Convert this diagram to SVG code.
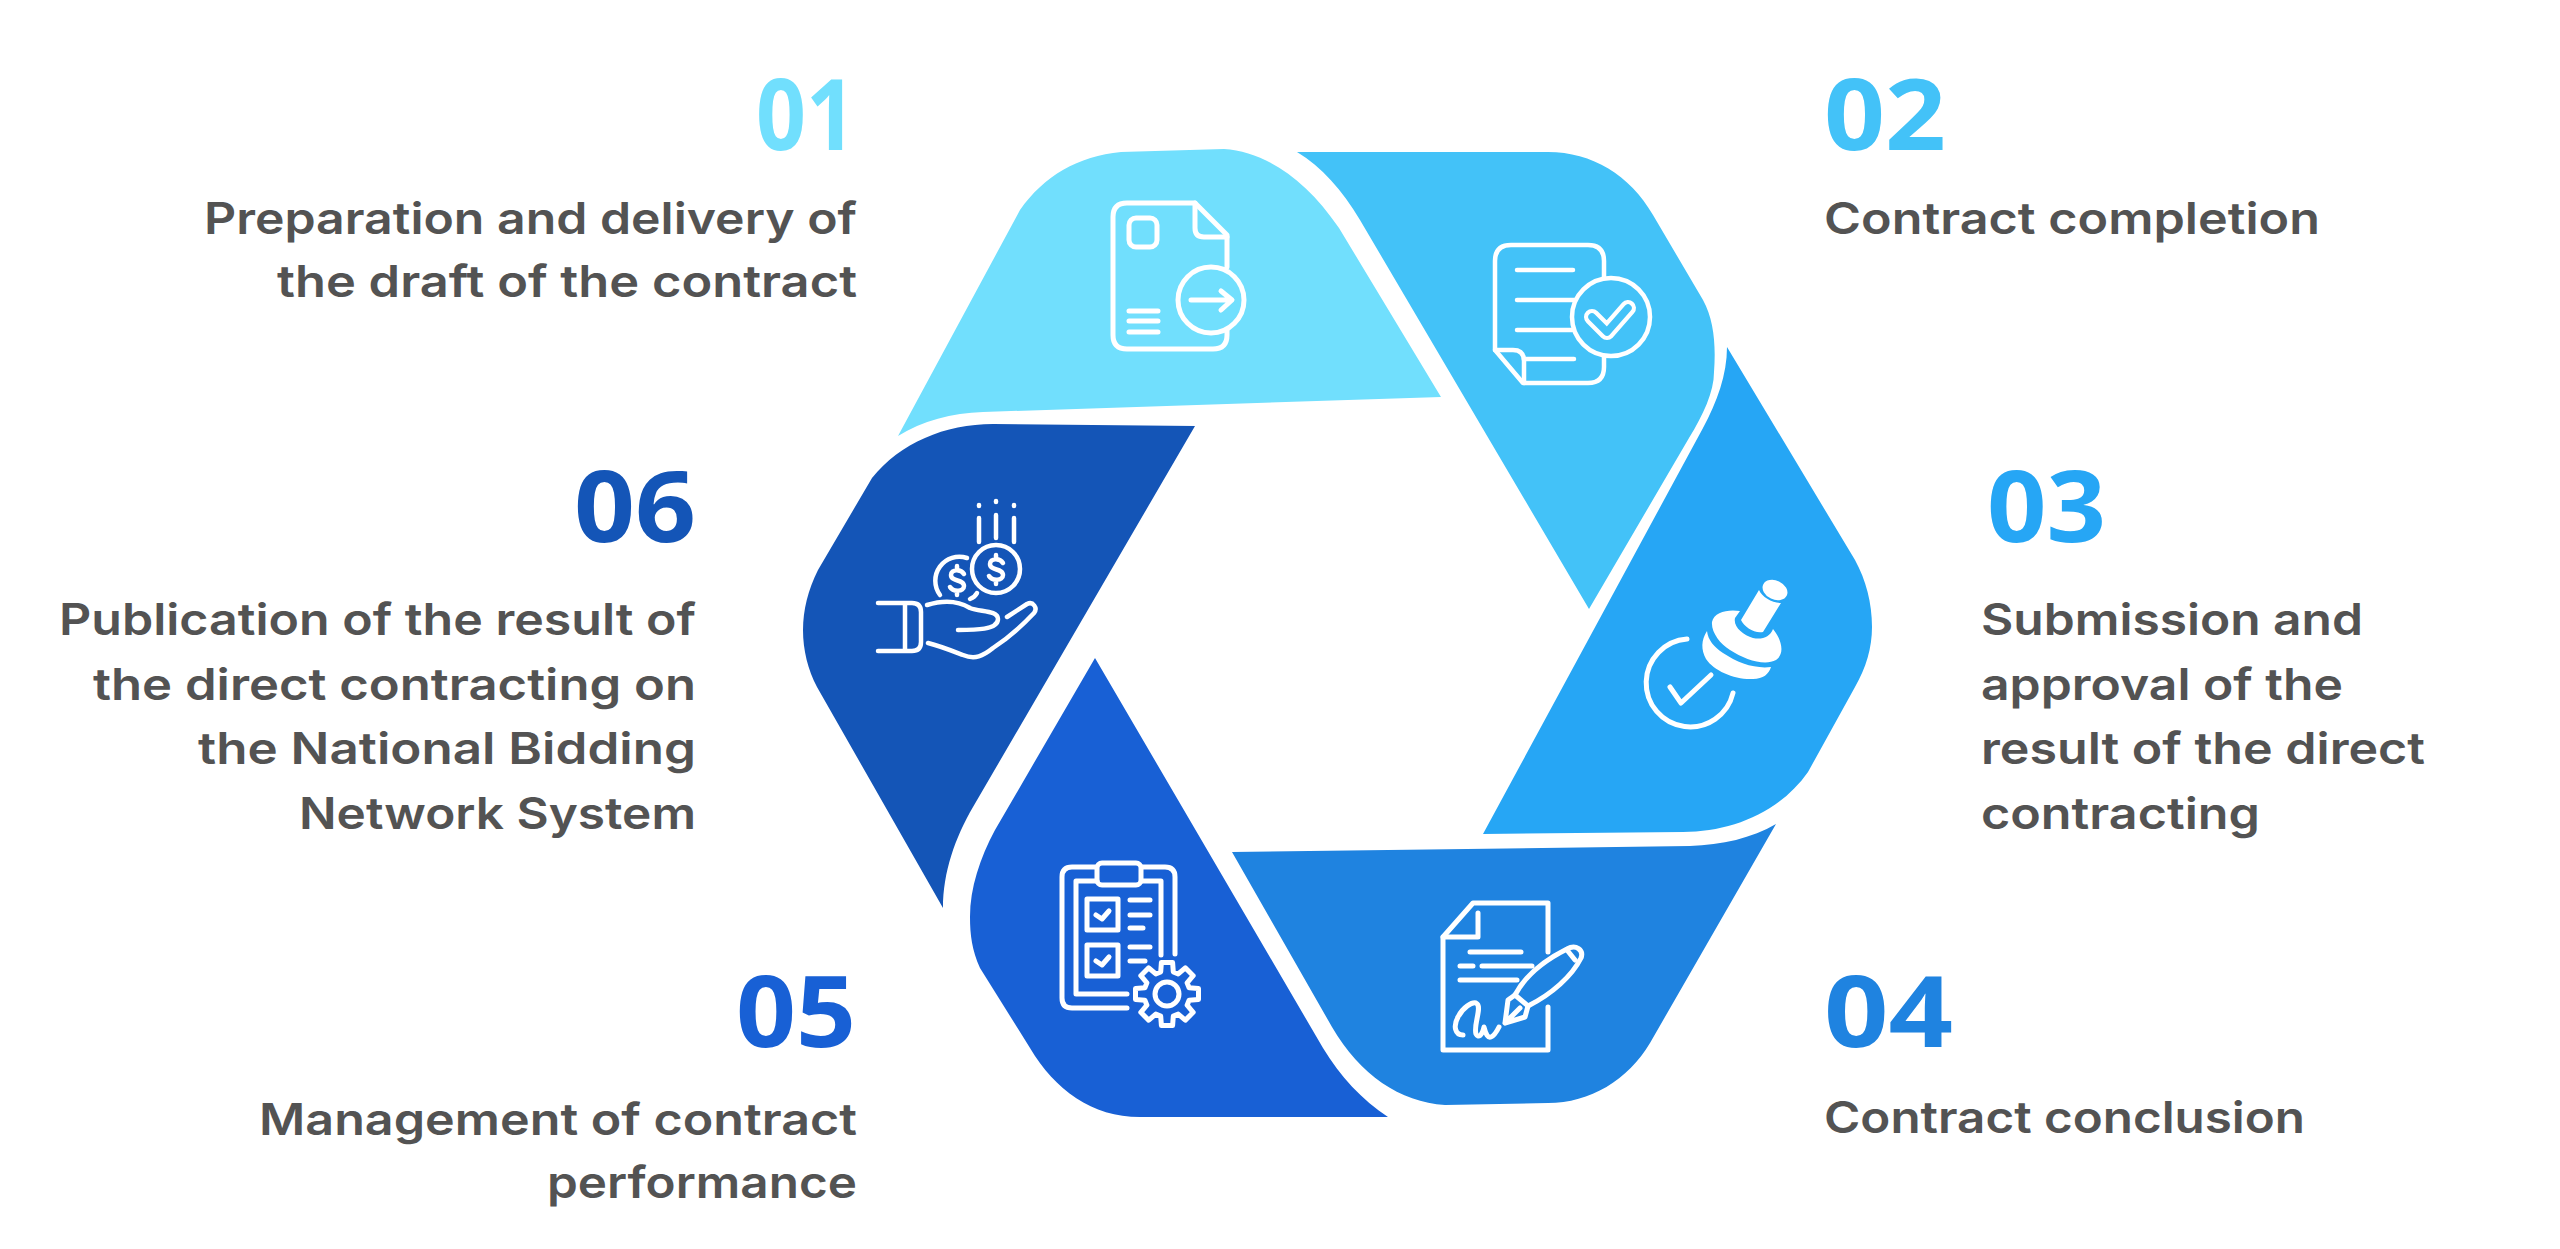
<svg xmlns="http://www.w3.org/2000/svg" width="2560" height="1249" viewBox="0 0 2560 1249">
<style>
text{font-family:"Inter","Noto Sans","Liberation Sans",sans-serif}
.t{font-size:44px;font-weight:600;fill:#535353}
.n{font-size:99px;font-weight:700;font-family:"Open Sans","Inter",sans-serif}
.e{text-anchor:end}
.i{fill:none;stroke:#fff;stroke-width:5;stroke-linecap:round;stroke-linejoin:round}
.f{fill:#fff}
</style>
<rect width="2560" height="1249" fill="#fff"/>
<g id="node-01">
<path fill="#71DFFD" d="M898,436 C922,421 952,413 983,412 L1441,397 L1339,228 C1305,178 1265,152 1224,149 L1121,152 C1078,156 1044,176 1020,210 Z"/>
<g class="i">
<path d="M1227,267 V235 L1195,203 H1127 Q1113,203 1113,217 V335 Q1113,349 1127,349 H1213 Q1227,349 1227,335 V330"/>
<path d="M1195,203 V228 Q1195,237 1204,237 H1227"/>
<rect x="1129" y="218" width="28" height="29" rx="7"/>
<path d="M1129,311 H1158 M1129,321 H1158 M1129,332 H1158"/>
<circle cx="1211" cy="300" r="33"/>
<path d="M1191,300 H1231 M1221,291 L1232,300 L1221,310"/>
</g>
<text class="n e" x="856" y="150" fill="#71DFFD" textLength="100" lengthAdjust="spacingAndGlyphs">01</text>
<text class="t e" x="857" y="234" textLength="653" lengthAdjust="spacingAndGlyphs">Preparation and delivery of</text>
<text class="t e" x="857" y="297" textLength="580" lengthAdjust="spacingAndGlyphs">the draft of the contract</text>
</g>
<g id="node-02">
<path fill="#43C2F8" d="M1297,152 L1548,152 C1592,152 1630,175 1653,215 L1703,300 C1714,320 1716,345 1714,372 C1714,392 1703,415 1689,438 L1589,609 L1360,220 C1342,190 1322,167 1297,152 Z"/>
<g class="i" style="stroke-width:4.5">
<path d="M1604,278 V261 Q1604,245 1588,245 H1511 Q1495,245 1495,261 V350 L1523,383 H1588 Q1604,383 1604,367 V356"/>
<path d="M1495,350 H1513 Q1524,350 1524,361 V383"/>
<path d="M1517,270 H1573 M1517,300 H1575 M1517,330 H1572 M1524,359 H1574"/>
<circle cx="1611" cy="317" r="39"/>
<path style="stroke-width:16" d="M1592,317 L1607,332 L1628,308"/>
<path style="stroke:#43C2F8;stroke-width:7.5" d="M1592,317 L1607,332 L1628,308"/>
</g>
<text class="n" x="1824" y="150" fill="#43C2F8" textLength="122" lengthAdjust="spacingAndGlyphs">02</text>
<text class="t" x="1824" y="234" textLength="496" lengthAdjust="spacingAndGlyphs">Contract completion</text>
</g>
<g id="node-03">
<path fill="#26A6F5" d="M1727,347 L1855,560 C1866,580 1872,603 1872,627 C1872,648 1866,668 1855,687 L1808,772 C1780,812 1732,832 1683,832 L1483,834 L1703,428 C1717,402 1727,375 1727,347 Z"/>
<path class="f" d="M1740,611 C1728,609 1714,612 1712,622 C1711,632 1720,644 1730,650 C1745,660 1765,666 1776,660 C1785,654 1782,640 1773,629 C1770,637 1762,640 1753,638 C1743,635 1733,627 1735,618 Z"/>
<path class="f" d="M1759,590 C1762,597 1772,603 1781,603 L1763,632 C1755,634 1744,627 1741,620 Z"/>
<ellipse class="f" cx="1775" cy="590" rx="13" ry="9.5" transform="rotate(25 1775 590)"/>
<path class="f" d="M1707,631 C1701,640 1701,650 1706,659 C1714,671 1735,680 1753,679 C1763,679 1769,674 1771,667 C1755,669 1738,663 1723,653 C1714,647 1708,640 1707,631 Z"/>
<g class="i">
<path d="M1687,639 A44,44 0 1 0 1733,693"/>
<path d="M1670,687 L1681,703 L1711,675"/>
</g>
<text class="n" x="1987" y="542" fill="#26A6F5" textLength="119" lengthAdjust="spacingAndGlyphs">03</text>
<text class="t" x="1981" y="635" textLength="382" lengthAdjust="spacingAndGlyphs">Submission and</text>
<text class="t" x="1981" y="700" textLength="362" lengthAdjust="spacingAndGlyphs">approval of the</text>
<text class="t" x="1981" y="764" textLength="444" lengthAdjust="spacingAndGlyphs">result of the direct</text>
<text class="t" x="1981" y="829" textLength="279" lengthAdjust="spacingAndGlyphs">contracting</text>
</g>
<g id="node-04">
<path fill="#1F83E0" d="M1232,852 L1690,846 C1722,845 1752,838 1776,824 L1650,1043 C1628,1080 1590,1103 1548,1103 L1445,1105 C1400,1102 1360,1075 1332,1027 Z"/>
<g class="i">
<path d="M1548,952 V903 H1473 L1443,937 V1050 H1548 V1007"/>
<path d="M1443,937 H1478 V913"/>
<path d="M1470,952 H1521 M1460,966 H1473 M1482,966 H1532 M1460,980 H1517"/>
<path d="M1515,995 C1525,976 1545,960 1567,949 C1576,944 1584,950 1581,958 C1572,976 1552,994 1528,1006"/>
<path d="M1567,950 L1575,960 M1515,995 L1528,1006"/>
<path d="M1515,995 L1508,1000 L1505,1023 L1525,1017 L1528,1006 M1505,1023 L1520,1008"/>
<path d="M1463,1035 C1455,1035 1453,1026 1458,1017 C1463,1007 1472,1002 1476,1003 C1483,1006 1473,1025 1476,1034 C1478,1038 1482,1036 1484,1027 C1486,1035 1488,1038 1491,1037 C1494,1036 1497,1031 1499,1027"/>
</g>
<text class="n" x="1824" y="1047" fill="#1F83E0" textLength="129" lengthAdjust="spacingAndGlyphs">04</text>
<text class="t" x="1824" y="1133" textLength="481" lengthAdjust="spacingAndGlyphs">Contract conclusion</text>
</g>
<g id="node-05">
<path fill="#1860D5" d="M1095,658 L1323,1048 C1340,1076 1362,1100 1388,1117 L1140,1117 C1092,1117 1055,1090 1030,1048 L980,968 C972,950 970,935 970,917 C970,888 980,858 995,830 Z"/>
<g class="i">
<path d="M1127,1008 H1072 Q1062,1008 1062,998 V877 Q1062,867 1072,867 H1095 M1142,867 H1165 Q1175,867 1175,877 V954"/>
<path d="M1127,994 H1076 V881 H1097 M1142,881 H1161 V955"/>
<rect x="1097" y="863" width="44" height="22" rx="5"/>
<rect x="1087" y="899" width="31" height="31"/>
<rect x="1087" y="945" width="31" height="31"/>
<path d="M1096,915 L1102,919 L1109,911 M1096,961 L1102,965 L1109,957"/>
<path d="M1130,900 H1150 M1130,915 H1150 M1130,928 H1143 M1130,947 H1150 M1130,961 H1145"/>
<path transform="translate(1167 994)" d="M-6.3,-22.1 L-5.6,-31.5 L5.6,-31.5 L6.3,-22.1 L11.2,-20.1 L18.3,-26.2 L26.2,-18.3 L20.1,-11.2 L22.1,-6.3 L31.5,-5.6 L31.5,5.6 L22.1,6.3 L20.1,11.2 L26.2,18.3 L18.3,26.2 L11.2,20.1 L6.3,22.1 L5.6,31.5 L-5.6,31.5 L-6.3,22.1 L-11.2,20.1 L-18.3,26.2 L-26.2,18.3 L-20.1,11.2 L-22.1,6.3 L-31.5,5.6 L-31.5,-5.6 L-22.1,-6.3 L-20.1,-11.2 L-26.2,-18.3 L-18.3,-26.2 L-11.2,-20.1 Z"/>
<circle cx="1167" cy="994" r="12"/>
</g>
<text class="n e" x="856" y="1047" fill="#1860D5" textLength="120" lengthAdjust="spacingAndGlyphs">05</text>
<text class="t e" x="857" y="1135" textLength="598" lengthAdjust="spacingAndGlyphs">Management of contract</text>
<text class="t e" x="857" y="1198" textLength="310" lengthAdjust="spacingAndGlyphs">performance</text>
</g>
<g id="node-06">
<path fill="#1455B7" d="M1195,426 L993,424 C945,424 900,443 872,478 L818,570 C808,590 803,610 803,630 C803,650 808,670 817,687 L943,908 C943,872 955,838 973,807 Z"/>
<g class="i" style="stroke-width:4.5">
<path d="M979,518 V542 M996,515 V538 M1014,518 V542 M979,505 V506 M996,501 V502 M1014,505 V506"/>
<circle cx="996" cy="569" r="24"/>
<path d="M967,558 A24,24 0 0 0 940,595 M977,593 Q975,597 970,599"/>
<path d="M1003,563 C1000,558 990,558 990,564 C990,571 1003,568 1003,575 C1003,581 992,581 989,576 M996,555 V558 M996,581 V584"/>
<path d="M964,574 C961,569 951,569 951,575 C951,582 964,579 964,586 C964,592 953,592 950,587 M957,566 V569 M957,592 V595"/>
<path d="M878,603 H912 Q921,603 921,612 V642 Q921,651 912,651 H878 M905,603 V651"/>
<path d="M927,605 C943,600 957,600 970,608 C980,612 998,610 998,619 C998,630 975,630 958,630"/>
<path d="M1007,617 L1027,604 C1033,601 1038,608 1034,613 C1020,628 1005,640 993,648 C983,656 975,660 963,655 C950,650 940,646 928,643"/>
</g>
<text class="n e" x="696" y="542" fill="#1455B7" textLength="122" lengthAdjust="spacingAndGlyphs">06</text>
<text class="t e" x="696" y="635" textLength="637" lengthAdjust="spacingAndGlyphs">Publication of the result of</text>
<text class="t e" x="696" y="700" textLength="603" lengthAdjust="spacingAndGlyphs">the direct contracting on</text>
<text class="t e" x="696" y="764" textLength="498" lengthAdjust="spacingAndGlyphs">the National Bidding</text>
<text class="t e" x="696" y="829" textLength="397" lengthAdjust="spacingAndGlyphs">Network System</text>
</g>
</svg>
